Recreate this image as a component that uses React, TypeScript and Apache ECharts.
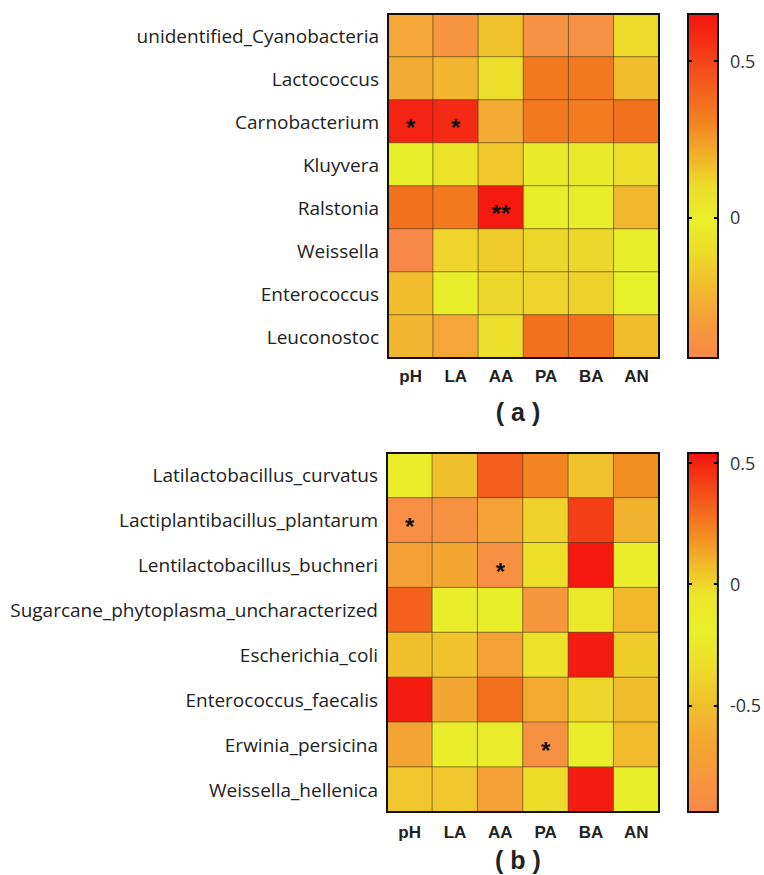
import React, { useEffect, useRef } from "react";
import * as echarts from "echarts";

const factors = ["pH", "LA", "AA", "PA", "BA", "AN"];

const taxaA = [
  "unidentified_Cyanobacteria",
  "Lactococcus",
  "Carnobacterium",
  "Kluyvera",
  "Ralstonia",
  "Weissella",
  "Enterococcus",
  "Leuconostoc",
];
const corrA = [
  [-0.3, -0.38, -0.2, -0.4, -0.4, -0.12],
  [-0.28, -0.25, -0.1, 0.33, 0.33, -0.22],
  [0.6, 0.58, -0.28, 0.33, 0.32, 0.36],
  [-0.02, -0.08, -0.18, -0.04, -0.04, -0.1],
  [0.36, 0.33, 0.63, 0.0, 0.0, -0.24],
  [-0.45, -0.14, -0.17, -0.13, -0.13, -0.02],
  [-0.22, 0.0, -0.13, -0.14, -0.15, -0.01],
  [-0.25, -0.3, -0.1, 0.36, 0.36, -0.22],
];
const signifA = [
  ["", "", "", "", "", ""],
  ["", "", "", "", "", ""],
  ["*", "*", "", "", "", ""],
  ["", "", "", "", "", ""],
  ["", "", "**", "", "", ""],
  ["", "", "", "", "", ""],
  ["", "", "", "", "", ""],
  ["", "", "", "", "", ""],
];
const rangeA = [-0.45, 0.65];
const ticksA = [0, 0.5];

const taxaB = [
  "Latilactobacillus_curvatus",
  "Lactiplantibacillus_plantarum",
  "Lentilactobacillus_buchneri",
  "Sugarcane_phytoplasma_uncharacterized",
  "Escherichia_coli",
  "Enterococcus_faecalis",
  "Erwinia_persicina",
  "Weissella_hellenica",
];
const corrB = [
  [-0.15, -0.5, 0.33, 0.22, -0.48, 0.2],
  [-0.88, -0.85, -0.7, -0.4, 0.42, -0.58],
  [-0.72, -0.65, -0.87, -0.33, 0.53, -0.15],
  [0.32, -0.15, -0.18, -0.8, -0.25, -0.55],
  [-0.5, -0.48, -0.7, -0.3, 0.52, -0.42],
  [0.52, -0.66, 0.28, -0.64, -0.38, -0.52],
  [-0.68, -0.15, -0.1, -0.86, -0.15, -0.53],
  [-0.46, -0.46, -0.72, -0.35, 0.52, -0.18],
];
const signifB = [
  ["", "", "", "", "", ""],
  ["*", "", "", "", "", ""],
  ["", "", "*", "", "", ""],
  ["", "", "", "", "", ""],
  ["", "", "", "", "", ""],
  ["", "", "", "", "", ""],
  ["", "", "", "*", "", ""],
  ["", "", "", "", "", ""],
];
const rangeB = [-0.94, 0.54];
const ticksB = [-0.5, 0, 0.5];

const colorsA = [
  "#F8884A", "#F69C3A", "#F1BA2E", "#EDDA2A", "#E8F02A", "#EDDC2A",
  "#F0AC28", "#F37C20", "#F45A1C", "#F43616", "#F41410",
];
const colorsB = [
  "#F8884A", "#F6983C", "#F3A830", "#F0C02C", "#EEDC2A", "#E8F02A",
  "#EBE82A", "#F0B428", "#F37C20", "#F44818", "#F41410",
];

function toCells(m: number[][]) {
  const out: number[][] = [];
  m.forEach((row, i) => row.forEach((v, j) => out.push([j, i, v])));
  return out;
}

const labelFont = "'Open Sans', 'Noto Sans', sans-serif";
const boldFont = "'Liberation Sans', Arial, sans-serif";

function heatAxes(taxa: string[], gridIndex: number, xMargin: number) {
  return {
    x: {
      type: "category",
      gridIndex,
      data: factors,
      axisLine: { show: false },
      axisTick: { show: false },
      splitLine: { show: false },
      axisLabel: {
        color: "#222",
        fontWeight: "bold",
        fontSize: 17,
        fontFamily: boldFont,
        margin: xMargin,
      },
    },
    y: {
      type: "category",
      gridIndex,
      data: taxa,
      inverse: true,
      axisLine: { show: false },
      axisTick: { show: false },
      splitLine: { show: false },
      axisLabel: {
        color: "#222",
        fontSize: 19,
        fontFamily: labelFont,
        margin: 9,
      },
    },
  };
}

function cbarAxes(gridIndex: number, range: number[], ticks: number[]) {
  const common = {
    type: "value",
    gridIndex,
    min: range[0],
    max: range[1],
    z: 12,
    axisLine: { show: false },
    splitLine: { show: false },
    axisTick: {
      show: true,
      inside: true,
      length: 4,
      customValues: ticks,
      lineStyle: { color: "#000", width: 2 },
    },
  };
  return [
    { ...common, position: "left", axisLabel: { show: false } },
    {
      ...common,
      position: "right",
      axisLabel: {
        show: true,
        customValues: ticks,
        color: "#333",
        fontSize: 18,
        fontFamily: labelFont,
        margin: 12,
      },
    },
  ];
}

function starLabel(signif: string[][]) {
  return {
    show: true,
    formatter: (p: any) => signif[p.value[1]][p.value[0]],
    color: "#111",
    fontSize: 24,
    fontWeight: "bold",
    fontFamily: boldFont,
    offset: [0, 6],
  };
}

export default function App() {
  const ref = useRef<HTMLDivElement>(null);

  useEffect(() => {
    document.body.style.margin = "0";
    if (!ref.current) return;
    const chart = echarts.init(ref.current, undefined, { renderer: "svg" });

    const hA = heatAxes(taxaA, 0, 10);
    const hB = heatAxes(taxaB, 1, 12);
    const gridBorder = {
      show: true,
      backgroundColor: "transparent",
      borderColor: "#111",
      borderWidth: 2,
      z: 10,
    };
    const hiddenX = (gridIndex: number) => ({
      type: "value",
      gridIndex,
      min: 0,
      max: 1,
      show: false,
    });
    const titleStyle = (text: string) => ({
      text,
      fontSize: 25,
      fontWeight: "bold",
      fontFamily: boldFont,
      fill: "#222",
      textAlign: "center",
      textVerticalAlign: "middle",
    });

    const option: any = {
      animation: false,
      backgroundColor: "#fff",
      grid: [
        { left: 388, top: 14, width: 271, height: 344, ...gridBorder },
        { left: 387, top: 453, width: 272, height: 359, ...gridBorder },
        { left: 688, top: 14, width: 30, height: 344, ...gridBorder },
        { left: 688, top: 453, width: 30, height: 359, ...gridBorder },
      ],
      xAxis: [hA.x, hB.x, hiddenX(2), hiddenX(3)],
      yAxis: [
        hA.y,
        hB.y,
        ...cbarAxes(2, rangeA, ticksA),
        ...cbarAxes(3, rangeB, ticksB),
      ],
      visualMap: [
        {
          type: "continuous",
          seriesIndex: 0,
          min: rangeA[0],
          max: rangeA[1],
          calculable: false,
          orient: "vertical",
          left: 688,
          top: 14,
          itemWidth: 30,
          itemHeight: 344,
          padding: 0,
          text: null,
          showLabel: false,
          inRange: { color: colorsA },
        },
        {
          type: "continuous",
          seriesIndex: 1,
          min: rangeB[0],
          max: rangeB[1],
          calculable: false,
          orient: "vertical",
          left: 688,
          top: 453,
          itemWidth: 30,
          itemHeight: 359,
          padding: 0,
          text: null,
          showLabel: false,
          inRange: { color: colorsB },
        },
      ],
      series: [
        {
          type: "heatmap",
          xAxisIndex: 0,
          yAxisIndex: 0,
          data: toCells(corrA),
          itemStyle: { borderColor: "rgba(70,55,20,0.55)", borderWidth: 1 },
          label: starLabel(signifA),
          emphasis: { disabled: true },
        },
        {
          type: "heatmap",
          xAxisIndex: 1,
          yAxisIndex: 1,
          data: toCells(corrB),
          itemStyle: { borderColor: "rgba(70,55,20,0.55)", borderWidth: 1 },
          label: starLabel(signifB),
          emphasis: { disabled: true },
        },
      ],
      graphic: [
        { type: "text", x: 518, y: 412, style: titleStyle("( a )") },
        { type: "text", x: 518, y: 860, style: titleStyle("( b )") },
      ],
    };

    chart.setOption(option);
    return () => chart.dispose();
  }, []);

  return <div ref={ref} style={{ width: 764, height: 875 }} />;
}
